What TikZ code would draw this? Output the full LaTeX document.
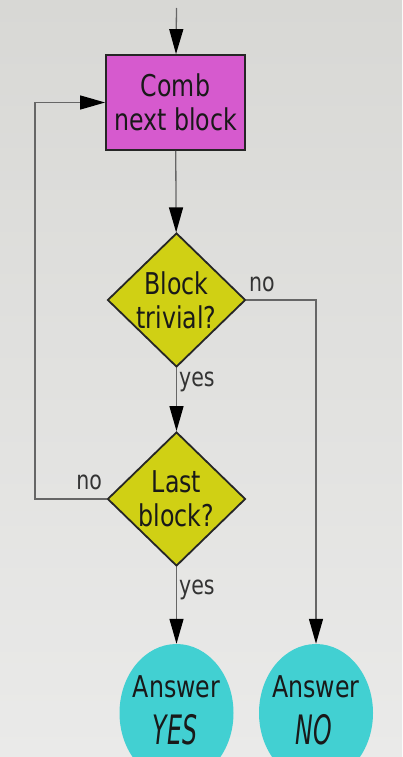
\documentclass[tikz,border=0pt]{standalone}
\usepackage{fontspec}
\setmainfont{DejaVu Sans}[FakeStretch=0.79]
\usetikzlibrary{shapes.geometric,arrows.meta}
\definecolor{combpink}{RGB}{214,90,206}
\definecolor{askyellow}{RGB}{208,208,20}
\definecolor{answercyan}{RGB}{66,208,210}
\definecolor{bgtop}{RGB}{216,216,213}
\definecolor{bgbottom}{RGB}{234,234,233}
\tikzset{
	txt/.style={text=black!90,font=\fontsize{30}{34}\selectfont,align=center,inner sep=0pt},
	answord/.style={text=black!90,font=\fontsize{30}{34}\selectfont\itshape,inner sep=0pt,anchor=base},
	lbl/.style={text=black!80,font=\fontsize{26}{28}\selectfont,inner sep=2pt},
	combbox/.style={rectangle,draw=black!85,line width=1.8pt,fill=combpink,minimum width=139pt,minimum height=95pt,inner sep=0pt},
	decide/.style={diamond,draw=black!85,line width=1.8pt,fill=askyellow,minimum width=138pt,minimum height=134pt,inner sep=0pt},
	answer/.style={ellipse,fill=answercyan,minimum width=114pt,minimum height=138pt,inner sep=0pt},
	flow/.style={draw=black!60,line width=1.3pt,-{Triangle[length=25pt,width=14pt,black]}}
}
\begin{document}
\begin{tikzpicture}[x=1pt,y=-1pt]
				\useasboundingbox (0,0) rectangle (402,757);
				\clip (0,0) rectangle (402,757);
				\shade [top color=bgtop,bottom color=bgbottom] (0,0) rectangle (402,757);
				\coordinate (start) at (176.5,8);
				\coordinate (back) at (35,499);
				\node [combbox] (comb) at (175.5,102.5) {};
				\node [txt] at (comb) {Comb\\next block};
				\node [decide] (triv) at (176.5,300) {};
				\node [txt] at (triv) {Block\\trivial?};
				\node [decide] (last) at (176.5,499) {};
				\node [txt] at (last) {Last\\block?};
				\node [answer] (ansyes) at (176.5,713) {};
				\node [answer] (ansno) at (316,713) {};
				\node [txt,anchor=base] at (176.5,697) {Answer};
				\node [answord] at (175,744) {\scalebox{1}[1.35]{YES}};
				\node [txt,anchor=base] at (316,697) {Answer};
				\node [answord] at (314,744) {\scalebox{1}[1.35]{NO}};
				\draw [flow] (start)--(comb);
				\draw [flow] (comb)--(triv);
				\draw [flow] (triv)--node[lbl,right,pos=0.22]{yes}(last);
				\draw [flow] (last)--node[lbl,right,pos=0.3]{yes}(ansyes);
				\draw [flow] (triv.east) node[lbl,above right,yshift=5pt]{no} -| (ansno);
				\draw [flow] (last.west) node[lbl,above left,xshift=-2pt,yshift=6pt]{no} -- (back) |- (comb.west);
			\end{tikzpicture}
\end{document}
